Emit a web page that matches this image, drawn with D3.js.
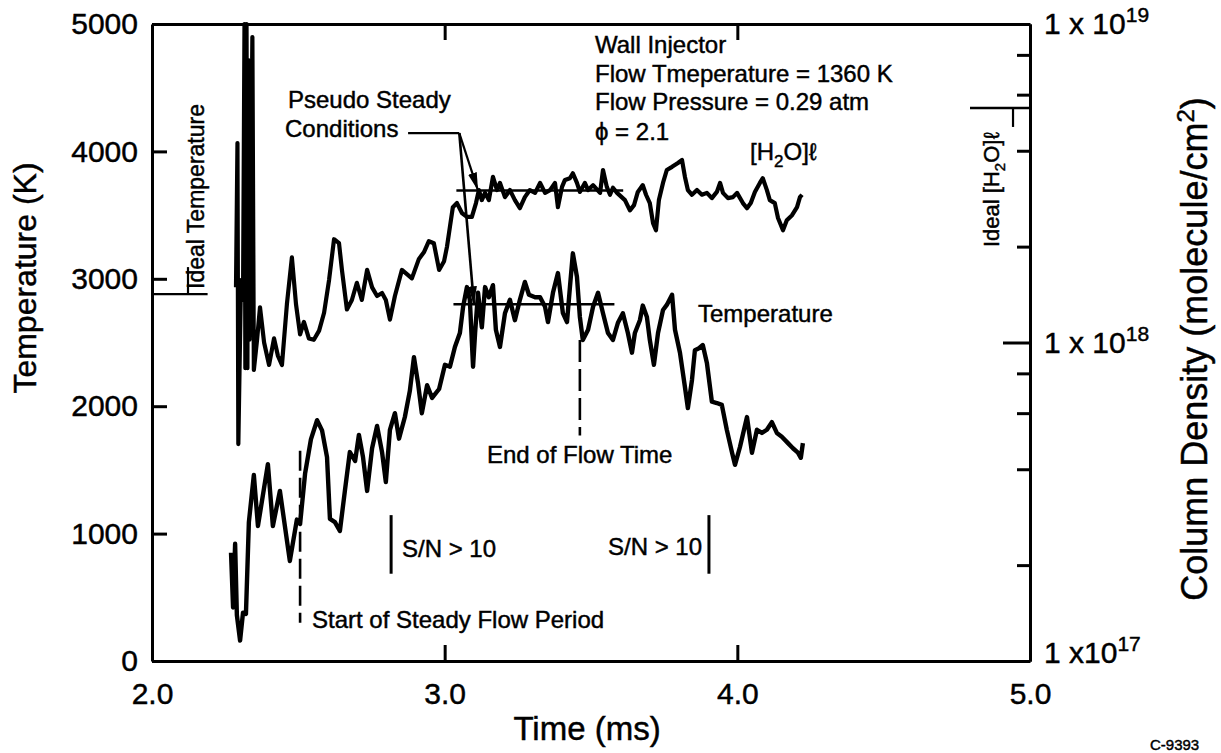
<!DOCTYPE html>
<html>
<head>
<meta charset="utf-8">
<script src="https://cdn.jsdelivr.net/npm/d3@7"></script>
<style>
  body { margin: 0; background: #fff; }
  svg { display: block; font-family: "Liberation Sans", Arial, Helvetica, sans-serif; }
  svg text { stroke: #000; stroke-width: 0.45px; }
  .axis path, .axis line { stroke: #000; stroke-width: 3; }
  .axis text { font-family: "Liberation Sans", Arial, sans-serif; font-size: 30px; fill: #000; }
  .note { font-size: 24px; fill: #000; }
  .title { fill: #000; }
</style>
</head>
<body>
<svg id="chart" width="1221" height="753"></svg>
<script>
// temperature trace (ms, K)
const tempTime = [
  2.270, 2.277, 2.284, 2.290, 2.301, 2.311, 2.321, 2.331, 2.348, 2.362,
  2.396, 2.413, 2.437, 2.471, 2.495, 2.506, 2.523, 2.543, 2.564, 2.581,
  2.598, 2.608, 2.625, 2.642, 2.659, 2.676, 2.694, 2.707, 2.721, 2.735,
  2.752, 2.769, 2.786, 2.799, 2.813, 2.830, 2.844, 2.864, 2.881, 2.895,
  2.909, 2.922, 2.940, 2.957, 2.981, 3.001, 3.018, 3.035, 3.052, 3.063,
  3.076, 3.086, 3.097, 3.104, 3.114, 3.127, 3.138, 3.151, 3.165, 3.175,
  3.189, 3.206, 3.223, 3.240, 3.257, 3.274, 3.288, 3.309, 3.326, 3.343,
  3.353, 3.370, 3.387, 3.404, 3.418, 3.428, 3.438, 3.452, 3.462, 3.472,
  3.490, 3.507, 3.524, 3.541, 3.558, 3.575, 3.592, 3.609, 3.626, 3.640,
  3.650, 3.667, 3.677, 3.691, 3.701, 3.715, 3.729, 3.746, 3.759, 3.777,
  3.787, 3.804, 3.821, 3.831, 3.845, 3.855, 3.869, 3.882, 3.896, 3.913,
  3.930, 3.947, 3.964, 3.982, 3.992, 4.009, 4.033, 4.050, 4.067, 4.084,
  4.101, 4.118, 4.135, 4.152, 4.173, 4.190, 4.207, 4.217, 4.224
];
const tempK = [
  850, 420, 920, 360, 160, 380, 370, 1090, 1460, 1060,
  1545, 1060, 1335, 785, 1110, 1075, 1470, 1740, 1890, 1810,
  1600, 1115, 1090, 1020, 1335, 1640, 1570, 1775, 1600, 1335,
  1670, 1845, 1640, 1405, 1815, 1945, 1745, 1915, 2120, 2385,
  2180, 1945, 2165, 2065, 2135, 2325, 2310, 2465, 2575, 2780,
  2935, 2835, 2310, 2575, 2890, 2620, 2935, 2855, 2950, 2600,
  2465, 2730, 2835, 2675, 2835, 2975, 2875, 2855, 2855, 2780,
  2660, 2890, 3045, 2730, 2660, 2935, 3200, 3015, 2700, 2520,
  2600, 2780, 2890, 2730, 2575, 2520, 2655, 2730, 2575, 2420,
  2575, 2675, 2790, 2700, 2520, 2325, 2575, 2755, 2795, 2875,
  2600, 2420, 2150, 1985, 2205, 2440, 2455, 2480, 2340, 2035,
  2025, 2010, 1815, 1635, 1540, 1680, 1915, 1635, 1815, 1790,
  1815, 1875, 1790, 1760, 1710, 1670, 1635, 1595, 1710
];

// water column density trace (ms, molecule/cm2), upper curve
const h2oTime = [
  2.287, 2.292, 2.295, 2.304, 2.311, 2.316, 2.319, 2.323, 2.326, 2.329,
  2.333, 2.343, 2.348, 2.359, 2.369, 2.383, 2.400, 2.417, 2.430, 2.444,
  2.461, 2.478, 2.492, 2.506, 2.519, 2.536, 2.553, 2.571, 2.588, 2.605,
  2.622, 2.639, 2.649, 2.666, 2.683, 2.700, 2.717, 2.735, 2.752, 2.769,
  2.786, 2.799, 2.813, 2.830, 2.854, 2.871, 2.888, 2.912, 2.929, 2.946,
  2.963, 2.981, 2.998, 3.008, 3.018, 3.028, 3.042, 3.059, 3.076, 3.093,
  3.107, 3.117, 3.127, 3.138, 3.151, 3.165, 3.179, 3.189, 3.206, 3.223,
  3.240, 3.257, 3.274, 3.291, 3.309, 3.326, 3.343, 3.360, 3.377, 3.387,
  3.401, 3.411, 3.428, 3.438, 3.452, 3.462, 3.479, 3.490, 3.507, 3.531,
  3.541, 3.554, 3.565, 3.575, 3.589, 3.616, 3.633, 3.647, 3.660, 3.677,
  3.688, 3.701, 3.712, 3.722, 3.732, 3.746, 3.759, 3.777, 3.797, 3.811,
  3.821, 3.831, 3.845, 3.862, 3.879, 3.896, 3.913, 3.930, 3.941, 3.951,
  3.968, 3.985, 3.999, 4.019, 4.033, 4.046, 4.060, 4.077, 4.087, 4.101,
  4.111, 4.128, 4.139, 4.156, 4.169, 4.187, 4.204, 4.214, 4.221
];
const h2oDensity = [
  1.49e18, 4.23e18, 4.8e17, 1.57e18, 1.36e18, 1.0e19, 8.3e17, 1.0e19, 8.3e17, 7.7e18,
  1.02e18, 9.1e18, 8.2e17, 1.02e18, 1.29e18, 1.0e18, 8.5e17, 1.03e18, 9.1e17, 8.5e17,
  1.32e18, 1.85e18, 1.32e18, 1.06e18, 1.16e18, 1.03e18, 1.02e18, 1.09e18, 1.24e18, 1.57e18,
  2.11e18, 2.05e18, 1.69e18, 1.27e18, 1.36e18, 1.54e18, 1.36e18, 1.69e18, 1.49e18, 1.40e18,
  1.43e18, 1.36e18, 1.18e18, 1.40e18, 1.69e18, 1.64e18, 1.59e18, 1.83e18, 1.92e18, 2.08e18,
  2.05e18, 1.69e18, 1.80e18, 2.00e18, 2.31e18, 2.66e18, 2.74e18, 2.55e18, 2.48e18, 2.48e18,
  2.74e18, 3.01e18, 2.80e18, 2.95e18, 2.80e18, 3.31e18, 3.01e18, 3.17e18, 2.86e18, 3.01e18,
  2.80e18, 2.64e18, 2.86e18, 3.01e18, 2.95e18, 3.17e18, 2.95e18, 3.01e18, 3.17e18, 2.66e18,
  3.08e18, 3.24e18, 3.28e18, 3.40e18, 3.17e18, 2.97e18, 3.17e18, 3.01e18, 3.12e18, 2.95e18,
  3.48e18, 3.08e18, 2.91e18, 3.06e18, 2.95e18, 2.80e18, 2.60e18, 2.70e18, 2.97e18, 3.12e18,
  2.91e18, 2.74e18, 2.37e18, 2.25e18, 2.80e18, 3.17e18, 3.48e18, 3.56e18, 3.66e18, 3.74e18,
  3.31e18, 3.01e18, 2.91e18, 3.01e18, 2.91e18, 2.95e18, 2.84e18, 2.97e18, 3.17e18, 2.95e18,
  2.84e18, 2.86e18, 2.95e18, 2.74e18, 2.64e18, 2.74e18, 2.97e18, 3.17e18, 3.28e18, 3.01e18,
  2.80e18, 2.74e18, 2.46e18, 2.25e18, 2.42e18, 2.51e18, 2.66e18, 2.86e18, 2.91e18
];

// axis ticks
const timeTicks = [2, 3, 4, 5];
const tempTicks = [0, 1000, 2000, 3000, 4000, 5000];
const densityMajor = [1e17, 1e18, 1e19];
const densityMinor = [2e17, 4e17, 6e17, 8e17, 2e18, 4e18, 6e18, 8e18];
const densityLabels = [
  {v: 1e17, base: "1 x10", exp: "17"},
  {v: 1e18, base: "1 x 10", exp: "18"},
  {v: 1e19, base: "1 x 10", exp: "19"}
];

// reference levels and markers
const steadyTemp = 2800, steadyTempSpan = [3.03, 3.58];
const steadyH2O = 3.0e18, steadyH2OSpan = [3.04, 3.61];
const idealTemp = 2880, idealTempSpan = [2.0, 2.19];
const idealH2O = 5.45e18, idealH2OSpan = [4.795, 5.0];
const flowStart = 2.506, flowEnd = 3.462;
const snTimes = [2.817, 3.903];

const svg = d3.select("#chart");

const x = d3.scaleLinear().domain([2, 5]).range([152, 1030]);
const yT = d3.scaleLinear().domain([0, 5000]).range([661, 24]);
const yN = d3.scaleLog().domain([1e17, 1e19]).range([661, 24]);

// arrow head
svg.append("defs").append("marker")
    .attr("id", "arrow")
    .attr("markerUnits", "userSpaceOnUse")
    .attr("viewBox", "0 0 18 9")
    .attr("markerWidth", 18).attr("markerHeight", 9)
    .attr("refX", 18).attr("refY", 4.5)
    .attr("orient", "auto")
  .append("path")
    .attr("d", "M0,0L18,4.5L0,9Z")
    .attr("fill", "#000");

// axes: frame with inward ticks
svg.append("g").attr("class", "axis")
    .attr("transform", "translate(0,24)")
    .call(d3.axisTop(x).tickValues([3, 4]).tickSizeInner(-16).tickSizeOuter(0).tickFormat(""));

svg.append("g").attr("class", "axis")
    .attr("transform", "translate(0,661)")
    .call(d3.axisBottom(x).tickValues(timeTicks).tickSizeInner(-16).tickSizeOuter(0)
        .tickPadding(22).tickFormat(d3.format(".1f")));

svg.append("g").attr("class", "axis")
    .attr("transform", "translate(152,0)")
    .call(d3.axisLeft(yT).tickValues(tempTicks).tickSizeInner(-15).tickSizeOuter(0)
        .tickPadding(14).tickFormat(d3.format("d")));

svg.append("g").attr("class", "axis")
    .attr("transform", "translate(1030,0)")
    .call(d3.axisRight(yN).tickValues(densityMinor).tickSizeInner(-13).tickSizeOuter(0).tickFormat(""));

const rightAxis = svg.append("g").attr("class", "axis")
    .attr("transform", "translate(1030,0)")
    .call(d3.axisRight(yN).tickValues(densityMajor).tickSizeInner(-27).tickSizeOuter(0).tickFormat(""));

// log labels with superscripts
const rl = rightAxis.selectAll(".rlabel")
    .data(densityLabels)
    .join("text")
    .attr("class", "rlabel")
    .attr("x", 14)
    .attr("y", d => yN(d.v) + (d.v === 1e17 ? 2 : 10))
    .attr("text-anchor", "start")
    .attr("xml:space", "preserve");
rl.append("tspan").text(d => d.base);
rl.append("tspan").attr("dy", -12).style("font-size", "21px").text(d => d.exp);

// axis titles
svg.append("text").attr("class", "title")
    .attr("transform", "translate(36,278) rotate(-90)")
    .attr("text-anchor", "middle")
    .style("font-size", "32px")
    .text("Temperature (K)");

const rt = svg.append("text").attr("class", "title")
    .attr("transform", "translate(1207,349) rotate(-90)")
    .attr("text-anchor", "middle")
    .style("font-size", "36px");
rt.append("tspan").text("Column Density (molecule/cm");
rt.append("tspan").attr("dy", -13).style("font-size", "24px").text("2");
rt.append("tspan").attr("dy", 13).text(")");

svg.append("text").attr("class", "title")
    .attr("x", 587).attr("y", 740)
    .attr("text-anchor", "middle")
    .style("font-size", "33px")
    .text("Time (ms)");

// data curves
const tempData = tempTime.map((t, i) => ({t, v: tempK[i]}));
const h2oData = h2oTime.map((t, i) => ({t, v: h2oDensity[i]}));

svg.append("path")
    .datum(h2oData)
    .attr("fill", "none")
    .attr("stroke", "#000")
    .attr("stroke-width", 4.2)
    .attr("stroke-linejoin", "round")
    .attr("d", d3.line().x(d => x(d.t)).y(d => yN(d.v)));

svg.append("path")
    .datum(tempData)
    .attr("fill", "none")
    .attr("stroke", "#000")
    .attr("stroke-width", 4.4)
    .attr("stroke-linejoin", "round")
    .attr("d", d3.line().x(d => x(d.t)).y(d => yT(d.v)));

// reference lines
const ann = svg.append("g").attr("stroke", "#000").attr("fill", "none");

ann.append("line")
    .attr("x1", x(steadyTempSpan[0])).attr("x2", x(steadyTempSpan[1]))
    .attr("y1", yT(steadyTemp)).attr("y2", yT(steadyTemp))
    .attr("stroke-width", 2.4);
ann.append("line")
    .attr("x1", x(steadyH2OSpan[0])).attr("x2", x(steadyH2OSpan[1]))
    .attr("y1", yN(steadyH2O)).attr("y2", yN(steadyH2O))
    .attr("stroke-width", 2.4);

// ideal temperature
ann.append("line")
    .attr("x1", x(idealTempSpan[0])).attr("x2", x(idealTempSpan[1]))
    .attr("y1", yT(idealTemp)).attr("y2", yT(idealTemp))
    .attr("stroke-width", 2.4);
ann.append("line")
    .attr("x1", x(2.123)).attr("x2", x(2.123))
    .attr("y1", yT(idealTemp)).attr("y2", yT(idealTemp) - 27)
    .attr("stroke-width", 2.2);

// ideal water
ann.append("line")
    .attr("x1", x(idealH2OSpan[0])).attr("x2", x(idealH2OSpan[1]))
    .attr("y1", yN(idealH2O)).attr("y2", yN(idealH2O))
    .attr("stroke-width", 2.4);
ann.append("line")
    .attr("x1", x(4.942)).attr("x2", x(4.942))
    .attr("y1", yN(idealH2O)).attr("y2", yN(idealH2O) + 19)
    .attr("stroke-width", 2.2);

// start / end of flow
ann.append("line")
    .attr("x1", x(flowStart)).attr("x2", x(flowStart))
    .attr("y1", yT(1650)).attr("y2", yT(300))
    .attr("stroke-width", 2.6)
    .attr("stroke-dasharray", "20,7");
ann.append("line")
    .attr("x1", x(flowEnd)).attr("x2", x(flowEnd))
    .attr("y1", yT(2520)).attr("y2", yT(1770))
    .attr("stroke-width", 2.6)
    .attr("stroke-dasharray", "22,7");

// S/N > 10 bars
ann.selectAll(".sn")
    .data(snTimes)
    .join("line")
    .attr("class", "sn")
    .attr("x1", d => x(d)).attr("x2", d => x(d))
    .attr("y1", yT(1145)).attr("y2", yT(685))
    .attr("stroke-width", 3);

// pseudo steady leader and arrows
ann.append("line")
    .attr("x1", x(2.875)).attr("x2", x(3.05))
    .attr("y1", yT(4144)).attr("y2", yT(4144))
    .attr("stroke-width", 2.2);
ann.append("line")
    .attr("x1", x(3.05)).attr("y1", yT(4144))
    .attr("x2", x(3.114)).attr("y2", yN(steadyH2O))
    .attr("stroke-width", 2.2)
    .attr("marker-end", "url(#arrow)");
ann.append("line")
    .attr("x1", x(3.05)).attr("y1", yT(4144))
    .attr("x2", x(3.100)).attr("y2", yT(steadyTemp))
    .attr("stroke-width", 2.6)
    .attr("marker-end", "url(#arrow)");

// text notes
const note = (tx, ty, str) => svg.append("text").attr("class", "note")
    .attr("x", tx).attr("y", ty).text(str);

note(288, 108, "Pseudo Steady");
note(285, 137, "Conditions");
note(595, 53, "Wall Injector");
note(595, 82, "Flow Tmeperature = 1360 K");
note(595, 110, "Flow Pressure = 0.29 atm");
note(595, 140, "\u03d5 = 2.1");
note(698, 322, "Temperature");
note(487, 463, "End of Flow Time");
note(402, 557, "S/N > 10");
note(608, 555, "S/N > 10");
note(312, 628, "Start of Steady Flow Period");
note(1150, 750, "C-9393").style("font-size", "15px");

const h2oLabel = svg.append("text").attr("class", "note").attr("x", 750).attr("y", 160);
h2oLabel.append("tspan").text("[H");
h2oLabel.append("tspan").attr("dy", 7).style("font-size", "17px").text("2");
h2oLabel.append("tspan").attr("dy", -7).text("O]\u2113");

svg.append("text").attr("class", "note")
    .attr("transform", "translate(204,289) rotate(-90)")
    .style("font-size", "23px")
    .text("Ideal Temperature");

const idealW = svg.append("text").attr("class", "note")
    .attr("transform", "translate(999,247) rotate(-90)")
    .style("font-size", "22px");
idealW.append("tspan").text("Ideal [H");
idealW.append("tspan").attr("dy", 6).style("font-size", "15px").text("2");
idealW.append("tspan").attr("dy", -6).text("O]\u2113");
</script>
</body>
</html>
